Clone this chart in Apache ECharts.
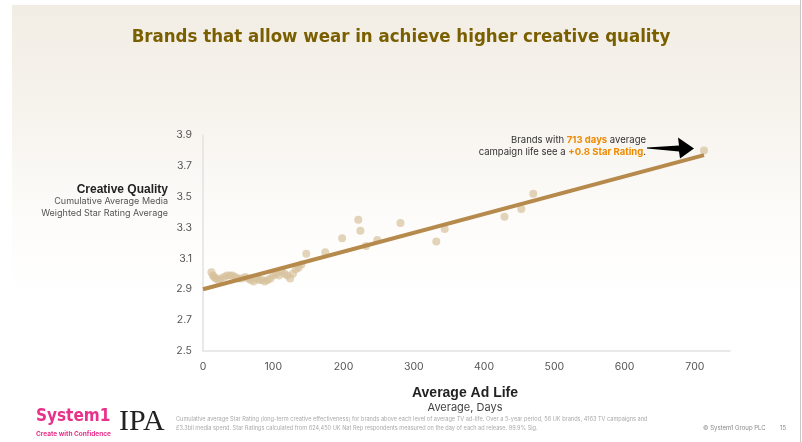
<!DOCTYPE html>
<html><head><meta charset="utf-8">
<script src="https://cdn.jsdelivr.net/npm/echarts@6/dist/echarts.min.js"></script>
<style>html,body{margin:0;padding:0;background:#fff}#c{width:802px;height:442px}</style>
</head><body><div id="c"></div>
<script>
// Data
const adLifeDays = [12,14,16,18,22,25,30,34,38,42,46,50,55,60,64,68,72,76,80,84,88,92,96,100,104,108,112,116,120,124,128,132,136,140,147,174,198,221,224,232,248,281,332,344,429,453,470,713];
const starRating = [3.01,2.99,2.98,2.97,2.96,2.97,2.98,2.99,2.99,2.99,2.98,2.97,2.97,2.98,2.97,2.96,2.95,2.97,2.96,2.96,2.95,2.96,2.97,2.99,3.00,2.99,3.02,3.00,2.99,2.97,3.00,3.03,3.04,3.06,3.13,3.14,3.23,3.35,3.28,3.18,3.22,3.33,3.21,3.29,3.37,3.42,3.52,3.80];
const trendX = [0, 713];
const trendY = [2.90, 3.77];
const xTicks = [0,100,200,300,400,500,600,700];
const yTicks = [2.5,2.7,2.9,3.1,3.3,3.5,3.7,3.9];

const chart = echarts.init(document.getElementById('c'), null, {renderer:'canvas'});
const F = 'Inter, "Noto Sans", sans-serif';
const option = {
  animation:false,
  backgroundColor:'#ffffff',
  grid:{left:203,right:72,top:135,bottom:91,containLabel:false},
  xAxis:{type:'value',min:0,max:750,interval:100,
    axisLine:{show:true,lineStyle:{color:'#e2e2e2',width:1.5}},
    axisTick:{show:false},splitLine:{show:false},
    axisLabel:{color:'#555',fontSize:10.5,fontFamily:F,margin:10,
      formatter:v=>xTicks.includes(v)?String(v):''}},
  yAxis:{type:'value',min:2.5,max:3.9,interval:0.2,
    axisLine:{show:true,lineStyle:{color:'#e2e2e2',width:1.5}},
    axisTick:{show:false},splitLine:{show:false},
    axisLabel:{color:'#555',fontSize:10.5,fontFamily:F,margin:11,
      formatter:v=>{const r=Math.round(v*10)/10;return yTicks.some(t=>Math.abs(t-r)<1e-6)?r.toFixed(1):'';}}},
  series:[
    {type:'scatter',symbolSize:8,z:2,
     itemStyle:{color:'rgba(214,192,154,0.85)'},
     data:adLifeDays.map((d,i)=>[d,starRating[i]])},
    {type:'line',z:3,symbol:'none',lineStyle:{color:'#b58a4c',width:4},
     data:trendX.map((d,i)=>[d,trendY[i]])}
  ]
};
chart.setOption(option);

const tip = chart.convertToPixel({seriesIndex:0},[713,3.80]);
const tx = tip[0]-10, ty = tip[1]-3;
chart.setOption({graphic:[
  {type:'rect',z:-10,silent:true,shape:{x:12,y:5,width:788,height:290},
   style:{fill:new echarts.graphic.LinearGradient(0,0,0,1,[{offset:0,color:'#f2ede4'},{offset:0.35,color:'#f6f3ed'},{offset:0.75,color:'#fdfcfa'},{offset:1,color:'#ffffff'}])}},
  {type:'rect',z:-9,silent:true,shape:{x:800,y:0,width:1,height:442},style:{fill:'#c8c8c8'}},
  {type:'text',left:'center',top:28,style:{text:'Brands that allow wear in achieve higher creative quality',
    font:'bold 18.5px "Liberation Sans Narrow", "DejaVu Sans Condensed", sans-serif',fill:'#7a5f00'}},
  {type:'text',x:168,y:184,style:{text:'Creative Quality',align:'right',font:'bold 12px "Liberation Sans", sans-serif',fill:'#222'}},
  {type:'text',x:168,y:196,style:{text:'Cumulative Average Media\nWeighted Star Rating Average',align:'right',lineHeight:11.5,font:'9px '+F,fill:'#555'}},
  {type:'text',x:465,y:386,style:{text:'Average Ad Life',align:'center',font:'bold 14px "Liberation Sans", sans-serif',fill:'#222'}},
  {type:'text',x:465,y:402,style:{text:'Average, Days',align:'center',font:'11px '+F,fill:'#444'}},
  {type:'text',x:tx-48,y:ty-13,style:{align:'right',lineHeight:12,
    text:'{n|Brands with }{o|713 days}{n| average}\n{n|campaign life see a }{o|+0.8 Star Rating}{n|.}',
    rich:{n:{font:'9.5px '+F,fill:'#333'},o:{font:'bold 9.5px '+F,fill:'#f08a00'}}}},
  {type:'polygon',shape:{points:[[tx-47,ty],[tx-15,ty-2],[tx-16,ty-10],[tx,ty+1],[tx-14,ty+11],[tx-15,ty+4],[tx-47,ty+1]]},style:{fill:'#000'}},
  {type:'text',x:36,y:408,style:{text:'System1',font:'bold 17px "Liberation Sans Narrow", "DejaVu Sans Condensed", sans-serif',fill:'#e8318a'}},
  {type:'text',x:36,y:431,style:{text:'Create with Confidence',font:'bold 6.5px '+F,fill:'#e8318a'}},
  {type:'text',x:119,y:407,style:{text:'IPA',font:'30px "Liberation Serif", serif',fill:'#222'}},
  {type:'text',x:176,y:415,style:{lineHeight:9,font:'5.6px '+F,fill:'#aaa',
    text:'Cumulative average Star Rating (long-term creative effectiveness) for brands above each level of average TV ad-life. Over a 5-year period, 56 UK brands, 4163 TV campaigns and\n£3.3bil media spend. Star Ratings calculated from 624,450 UK Nat Rep respondents measured on the day of each ad release. 99.9% Sig.'}},
  {type:'text',x:703,y:425,style:{text:'© System1 Group PLC',font:'6px '+F,fill:'#888'}},
  {type:'text',x:780,y:425,style:{text:'15',font:'6px '+F,fill:'#888'}}
]});
</script></body></html>
